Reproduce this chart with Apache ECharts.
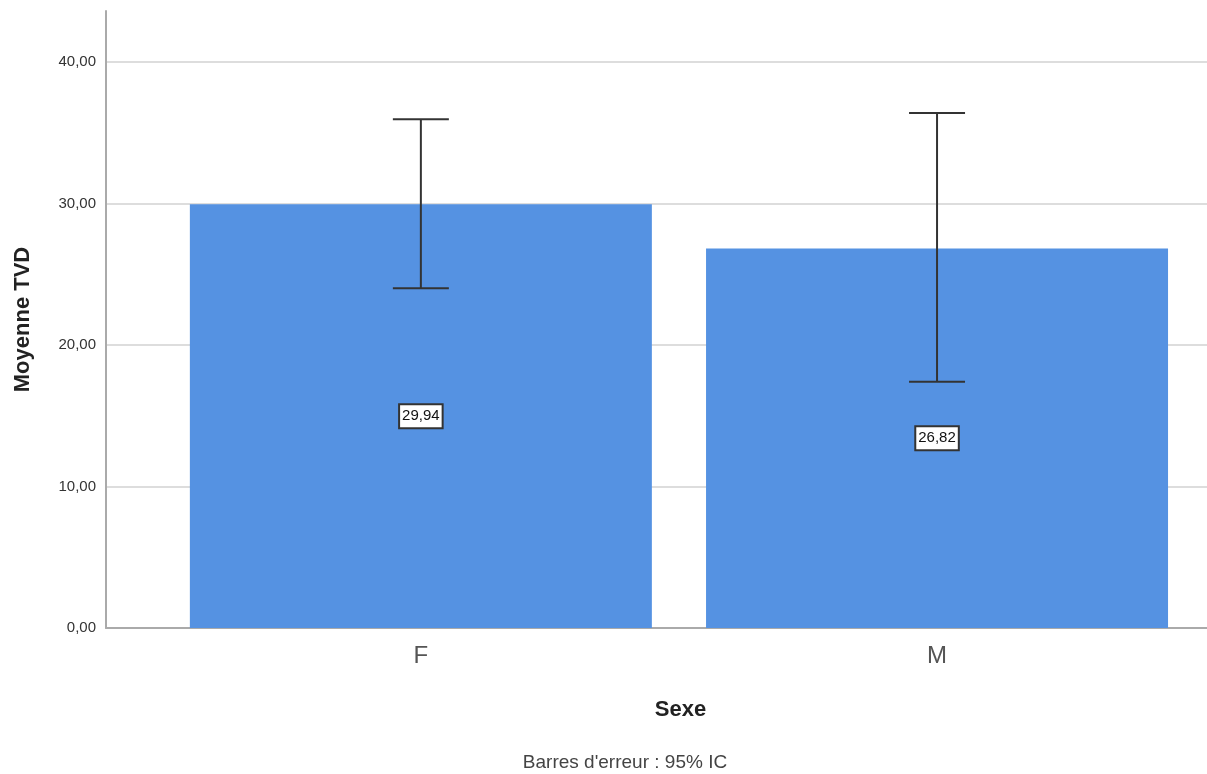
<!DOCTYPE html>
<html>
<head>
<meta charset="utf-8">
<script src="https://cdn.jsdelivr.net/npm/echarts@6/dist/echarts.min.js"></script>
<style>
html,body{margin:0;padding:0;background:#fff;}
#chart{width:1207px;height:774px;}
</style>
</head>
<body>
<div id="chart"></div>
<script>
const categories = ['F', 'M'];
const means = [29.94, 26.82];
const ciLow = [24.0, 17.4];
const ciHigh = [35.95, 36.4];
const yTicks = [0, 10, 20, 30, 40];

const fmt = v => v.toFixed(2).replace('.', ',');
const font = '"Liberation Sans", Arial, sans-serif';

const chart = echarts.init(document.getElementById('chart'));
const barData = categories.map((c, i) => [i, means[i]]);
const errData = categories.map((c, i) => [i, ciLow[i], ciHigh[i]]);

chart.setOption({
  animation: false,
  backgroundColor: '#fff',
  grid: { left: 106, right: 0, top: 11, bottom: 146, containLabel: false },
  xAxis: {
    type: 'value',
    min: -0.61,
    max: 1.523,
    name: 'Sexe',
    nameLocation: 'middle',
    nameGap: 71,
    nameTextStyle: { fontFamily: font, fontSize: 22, fontWeight: 'bold', color: '#222', padding: [0, 0, 0, 48] },
    axisLine: { show: true, onZero: false, lineStyle: { color: '#aaa', width: 2 } },
    axisTick: { show: false },
    splitLine: { show: false },
    axisLabel: {
      customValues: categories.map((c, i) => i),
      formatter: v => categories[Math.round(v)] || '',
      fontFamily: font, fontSize: 24, color: '#555', margin: 16
    }
  },
  yAxis: {
    type: 'value',
    min: 0,
    max: 43.6,
    interval: 10,
    name: 'Moyenne TVD',
    nameLocation: 'middle',
    nameGap: 72,
    nameTextStyle: { fontFamily: font, fontSize: 22, fontWeight: 'bold', color: '#222' },
    axisLine: { show: true, onZero: false, lineStyle: { color: '#aaa', width: 2 } },
    axisTick: { show: false },
    axisLabel: { fontFamily: font, fontSize: 15, color: '#333', margin: 10, showMaxLabel: false,
      formatter: v => (yTicks.includes(v) ? fmt(v) : '') },
    splitLine: { show: true, showMaxLine: false, lineStyle: { color: '#ddd', width: 2 } }
  },
  series: [
    {
      type: 'bar',
      data: barData,
      barWidth: 462,
      itemStyle: { color: '#5592E2' },
      z: 2,
      label: {
        show: true,
        position: 'inside',
        formatter: p => fmt(p.value[1]),
        fontFamily: font,
        fontSize: 15,
        color: '#111',
        backgroundColor: '#fff',
        borderColor: '#333',
        borderWidth: 2,
        padding: [4, 2, 3, 2]
      }
    },
    {
      type: 'custom',
      z: 3,
      data: errData,
      renderItem: (params, api) => {
        const x = api.value(0);
        const lo = api.coord([x, api.value(1)]);
        const hi = api.coord([x, api.value(2)]);
        const hw = 28;
        const style = { stroke: '#333', lineWidth: 2 };
        return {
          type: 'group',
          children: [
            { type: 'line', shape: { x1: hi[0], y1: hi[1], x2: lo[0], y2: lo[1] }, style },
            { type: 'line', shape: { x1: hi[0] - hw, y1: hi[1], x2: hi[0] + hw, y2: hi[1] }, style },
            { type: 'line', shape: { x1: lo[0] - hw, y1: lo[1], x2: lo[0] + hw, y2: lo[1] }, style }
          ]
        };
      }
    }
  ],
  graphic: [{
    type: 'text',
    x: 625,
    y: 763,
    style: { text: "Barres d'erreur : 95% IC", fontFamily: font, fontSize: 19, fill: '#444',
      align: 'center', verticalAlign: 'middle' }
  }]
});
</script>
</body>
</html>
